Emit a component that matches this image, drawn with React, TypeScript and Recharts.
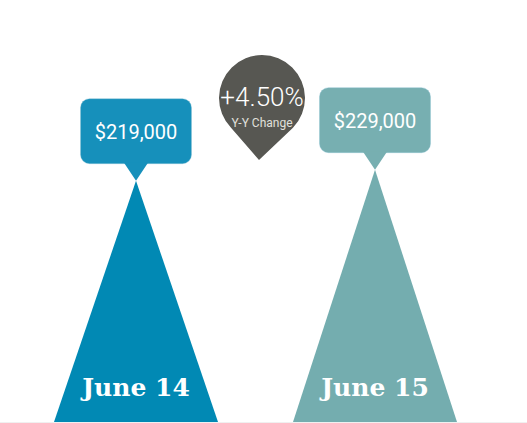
import React from 'react';
import { BarChart, Bar, XAxis, YAxis, LabelList, Customized } from 'recharts';

const dates = ['June 14', 'June 15'];
const prices = [219000, 229000];
const colors = ['#0189b4', '#74adaf'];
const boxColors = ['#1690bb', '#77afb1'];
const changeText = '+4.50%';
const changeLabel = 'Y-Y Change';

const data = dates.map((d, i) => ({ name: d, value: prices[i], color: colors[i], box: boxColors[i] }));

const Cone = (props: any) => {
  const { x, y, width, height, payload } = props;
  const cx = x + width / 2;
  return (
    <path
      d={`M${x},${y + height} L${cx},${y} L${x + width},${y + height} Z`}
      fill={payload.color}
    />
  );
};

const PriceTag = (props: any) => {
  const { x, y, width, value, index } = props;
  const cx = x + width / 2;
  const w = 111;
  const h = 65;
  const bottom = y - 17;
  const top = bottom - h;
  const fill = boxColors[index];
  return (
    <g>
      <rect x={cx - w / 2} y={top} width={w} height={h} rx={9} fill={fill} stroke="#8cc3d4" strokeOpacity={0.4} />
      <path d={`M${cx - 12},${bottom - 1} L${cx},${y} L${cx + 12},${bottom - 1} Z`} fill={fill} />
      <text
        x={cx}
        y={top + h / 2 + 1}
        fill="#fff"
        fontSize={20}
        fontFamily="Roboto, 'Open Sans', sans-serif"
        textAnchor="middle"
        dominantBaseline="central"
      >
        {'$' + value.toLocaleString('en-US')}
      </text>
    </g>
  );
};

const DateLabel = (props: any) => {
  const { x, y, width, height, value } = props;
  return (
    <text
      x={x + width / 2}
      y={y + height - 26}
      fill="#fff"
      fontSize={25}
      fontWeight="bold"
      fontFamily="'DejaVu Serif', serif"
      textAnchor="middle"
    >
      {value}
    </text>
  );
};

const ChangePin = () => {
  const cx = 262;
  const cy = 98;
  const r = 43;
  const d = 62;
  const ca = r / d;
  const sa = Math.sqrt(1 - ca * ca);
  const tx = cx - 3;
  const ty = cy + d;
  return (
    <g>
      <line x1={0} y1={422.5} x2={527} y2={422.5} stroke="#f0f0f0" />
      <path
        d={`M${tx},${ty} L${cx + r * sa},${cy + r * ca} A${r},${r} 0 1 0 ${cx - r * sa},${cy + r * ca} Z`}
        fill="#575752"
      />
      <text x={cx} y={cy + 8} fill="#fff" fontSize={26} fontWeight={300} fontFamily="Roboto, 'Open Sans', sans-serif" textAnchor="middle">
        {changeText}
      </text>
      <text x={cx} y={cy + 29} fill="#e0e0dc" fontSize={12} fontFamily="Roboto, 'Open Sans', sans-serif" textAnchor="middle">
        {changeLabel}
      </text>
    </g>
  );
};

export default function App() {
  return (
    <div style={{ position: 'fixed', left: 0, top: 0, width: 527, height: 423, background: '#fff' }}>
      <BarChart width={527} height={423} data={data} margin={{ top: 0, right: 33, bottom: 0, left: 16 }}>
        <XAxis dataKey="name" tick={false} tickLine={false} axisLine={false} height={1} />
        <YAxis hide domain={[0, 383000]} />
        <Bar dataKey="value" barSize={164} shape={<Cone />} isAnimationActive={false}>
          <LabelList dataKey="value" content={<PriceTag />} />
          <LabelList dataKey="name" content={<DateLabel />} />
        </Bar>
        <Customized component={ChangePin} />
      </BarChart>
    </div>
  );
}
